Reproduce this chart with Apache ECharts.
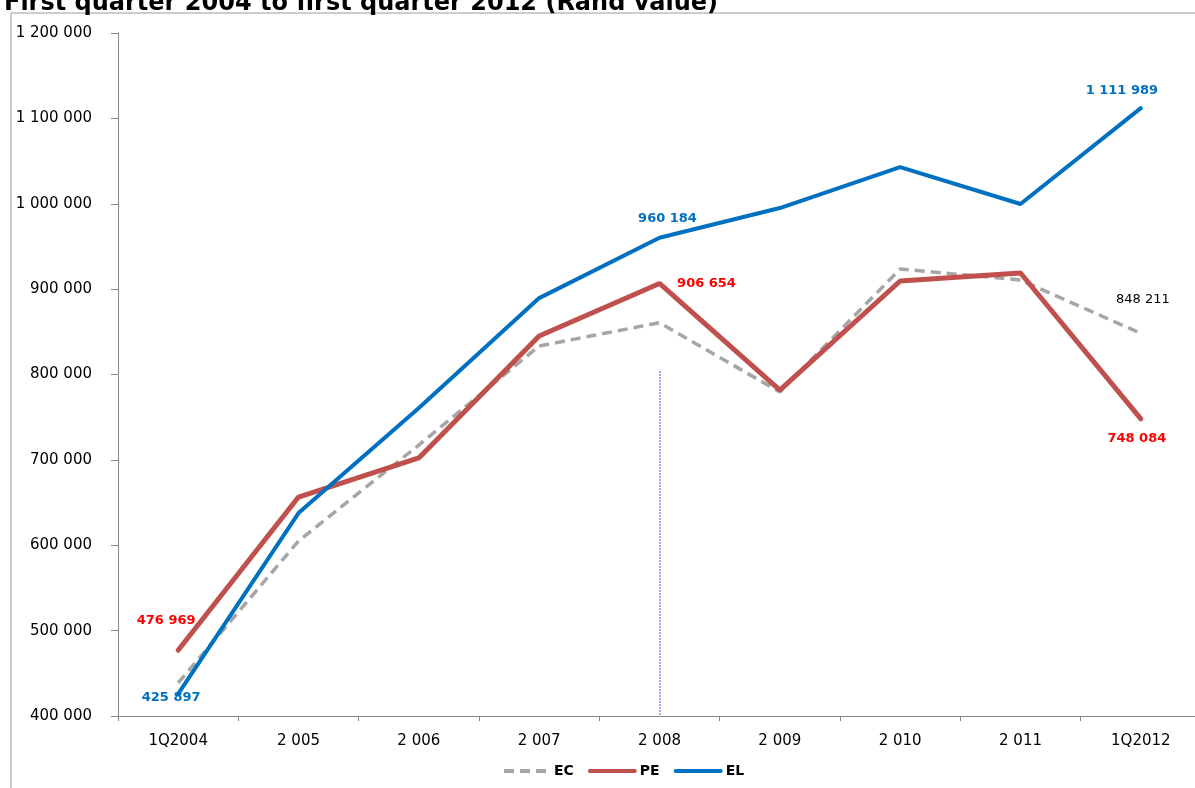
<!DOCTYPE html>
<html>
<head>
<meta charset="utf-8">
<script src="https://cdn.jsdelivr.net/npm/echarts@6/dist/echarts.min.js"></script>
<style>
html,body{margin:0;padding:0;background:#fff;overflow:hidden;}
#chart{width:1201px;height:788px;}
</style>
</head>
<body>
<div id="chart"></div>
<script>
const titleText = 'First quarter 2004 to first quarter 2012 (Rand value)';
const categories = ['1Q2004', '2 005', '2 006', '2 007', '2 008', '2 009', '2 010', '2 011', '1Q2012'];
const ecValues = [438700, 605000, 717400, 833400, 860700, 779500, 923600, 910700, 848211];
const peValues = [476969, 656500, 702200, 845000, 906654, 781800, 909500, 918900, 748084];
const elValues = [425897, 637700, 760700, 889500, 960184, 995000, 1043000, 999700, 1111989];
const yMin = 400000, yMax = 1200000, yInterval = 100000;
const markerCategory = '2 008';
const markerTop = 804000;

const FONT = 'DejaVu Sans';
function fmt(v) {
  return String(Math.round(v)).replace(/\B(?=(\d{3})+(?!\d))/g, ' ');
}
function lbl(value, offset, color, bold) {
  return {
    value: value,
    label: {
      show: true, position: 'inside', offset: offset,
      color: color, fontFamily: FONT, fontSize: 13,
      fontWeight: bold ? 'bold' : 'normal',
      formatter: p => fmt(p.value)
    }
  };
}
function withLabels(values, map) {
  return values.map((v, i) => map[i] ? lbl(v, map[i][0], map[i][1], map[i][2]) : v);
}
const ecData = withLabels(ecValues, {8: [[2, -34], '#000000', false]});
const peData = withLabels(peValues, {0: [[-12, -30], '#ff0000', true], 4: [[47, 0], '#ff0000', true], 8: [[-4, 20], '#ff0000', true]});
const elData = withLabels(elValues, {0: [[-7, 4], '#0070c0', true], 4: [[8, -19], '#0070c0', true], 8: [[-19, -18], '#0070c0', true]});

const chart = echarts.init(document.getElementById('chart'), null, {renderer: 'canvas'});
const common = {
  type: 'line', symbol: 'circle', symbolSize: 0.1, silent: true,
  emphasis: {disabled: true}, label: {show: false}
};
chart.setOption({
  animation: false,
  graphic: [
    {type: 'rect', shape: {x: 11, y: 13, width: 1300, height: 900}, style: {fill: 'none', stroke: '#9a9a9a', lineWidth: 1}, silent: true, z: 0},
    {type: 'text', left: 4, top: -8, style: {text: titleText, font: 'bold 24px "DejaVu Sans"', fill: '#000'}, z: 10}
  ],
  grid: {left: 118, top: 33, right: 0, bottom: 72, containLabel: false},
  legend: {
    left: 497, top: 759, itemWidth: 45, itemHeight: 10, itemGap: 14,
    itemStyle: {opacity: 0},
    lineStyle: {width: 4},
    textStyle: {fontFamily: FONT, fontWeight: 'bold', fontSize: 14, color: '#000'},
    data: ['EC', 'PE', 'EL']
  },
  xAxis: {
    type: 'category', data: categories, boundaryGap: true,
    axisLine: {lineStyle: {color: '#868686', width: 1}},
    axisTick: {show: true, length: 5, alignWithLabel: false, lineStyle: {color: '#868686'}},
    axisLabel: {color: '#000', fontFamily: FONT, fontSize: 15, margin: 18},
    splitLine: {show: false}
  },
  yAxis: {
    type: 'value', min: yMin, max: yMax, interval: yInterval,
    axisLine: {show: true, lineStyle: {color: '#868686', width: 1}},
    axisTick: {show: true, length: 7, lineStyle: {color: '#868686'}},
    axisLabel: {color: '#000', fontFamily: FONT, fontSize: 15, margin: 26, formatter: v => fmt(v)},
    splitLine: {show: false}
  },
  series: [
    Object.assign({}, common, {
      name: 'EC', data: ecData, z: 3,
      itemStyle: {color: '#a6a6a6'},
      lineStyle: {color: '#a6a6a6', width: 3.5, type: [10, 6]},
      markLine: {
        silent: true, symbol: 'none', label: {show: false}, emphasis: {disabled: true},
        lineStyle: {color: '#a37fe0', width: 1.5, type: [2, 1]},
        data: [[{coord: [markerCategory, markerTop]}, {coord: [markerCategory, yMin]}]]
      }
    }),
    Object.assign({}, common, {
      name: 'PE', data: peData, z: 4,
      itemStyle: {color: '#c0504d'},
      lineStyle: {color: '#c0504d', width: 5, cap: 'round'}
    }),
    Object.assign({}, common, {
      name: 'EL', data: elData, z: 5,
      itemStyle: {color: '#0070c0'},
      lineStyle: {color: '#0070c0', width: 4, cap: 'round'}
    })
  ]
});
</script>
</body>
</html>
